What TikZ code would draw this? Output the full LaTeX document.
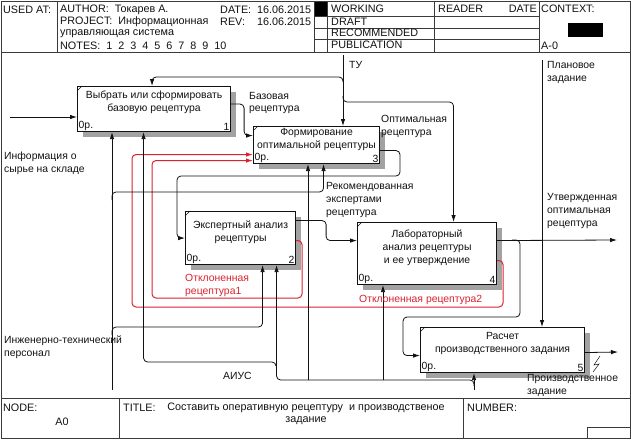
\documentclass[tikz,border=0pt]{standalone}
\usepackage{fontspec}
\setmainfont{Liberation Sans}
\usetikzlibrary{arrows.meta,calc,shadows}
\definecolor{ink}{HTML}{111111}
\definecolor{rejected}{HTML}{D9222E}
\definecolor{shadowgray}{HTML}{A2A2A2}
\definecolor{rulegray}{HTML}{3A3A3A}

\begin{document}
\begin{tikzpicture}[
  x=1pt, y=-1pt, font=\fontsize{10.4}{13}\selectfont,
  fn/.style={draw=ink, line width=1.1pt, fill=white, inner sep=0pt, anchor=north west,
    drop shadow={shadow xshift=5pt, shadow yshift=-5pt, fill=shadowgray, opacity=1}},
  fname/.style={align=center, text=ink, inner sep=0pt},
  corner/.style={inner sep=1.5pt, text=ink},
  flow/.style={draw=ink, line width=0.8pt, rounded corners=4pt, -{Latex[length=7pt,width=4.5pt]}},
  back/.style={flow, draw=rejected, line width=1pt},
  lbl/.style={anchor=west, align=left, text=ink, inner sep=0pt},
  rlbl/.style={lbl, text=rejected},
  cell/.style={anchor=west, inner sep=0pt, text=ink, font=\fontsize{10.8}{12.5}\selectfont},
  rule/.style={draw=rulegray, line width=0.8pt}
]
\useasboundingbox (0,0) rectangle (631,439);

\draw[rule] (1,1) rectangle (630,438);
\draw[rule] (1,52) -- (630,52);
\foreach \x in {57,314,327,434,539} {\draw[rule] (\x,1) -- (\x,52);}
\foreach \y in {16,28,39} {\draw[rule] (314,\y) -- (539,\y);}
\fill[black] (315,2) rectangle (327,16);
\fill[black] (568,23) rectangle (603,37);
\draw[rule] (1,398) -- (630,398);
\foreach \x in {119,463} {\draw[rule] (\x,398) -- (\x,438);}
\draw[rule] (587,427) rectangle (630,438);

\node[cell] (usedat) at (3,10) {USED AT:};
\node[cell] (author) at (60,10) {AUTHOR:\ \ Токарев А.};
\node[cell] (date) at (220,10) {DATE:\ \ 16.06.2015};
\node[cell] (project) at (60,22) {PROJECT:\ \ Информационная};
\node[cell] (rev) at (220,22) {REV:\ \ \ \ 16.06.2015};
\node[cell] (project2) at (60,34) {управляющая система};
\node[cell] (notes) at (60,46) {NOTES:\ \ 1\hspace{6pt}2\hspace{6pt}3\hspace{6pt}4\hspace{6pt}5\hspace{6pt}6\hspace{6pt}7\hspace{6pt}8\hspace{6pt}9\hspace{6pt}10};
\node[cell] (working) at (331,9) {WORKING};
\node[cell] (draft) at (331,22) {DRAFT};
\node[cell] (recom) at (331,33) {RECOMMENDED};
\node[cell] (publ) at (331,45) {PUBLICATION};
\node[cell] (reader) at (438,9) {READER};
\node[cell, anchor=east] (rdate) at (537,9) {DATE};
\node[cell] (context) at (541,9) {CONTEXT:};
\node[cell] (ctxnode) at (541,46) {A-0};
\node[cell] (nodelbl) at (3,408) {NODE:};
\node[cell, anchor=center] (nodeval) at (62,422) {A0};
\node[cell] (titlelbl) at (123,408) {TITLE:};
\node[cell, anchor=center, align=center] (title) at (306,414)
  {Составить оперативную рецептуру\ \ и производственое\\задание};
\node[cell] (number) at (467,408) {NUMBER:};

\node[fn, minimum width=153pt, minimum height=45pt] (b1) at (77,86) {};
\node[fn, minimum width=126pt, minimum height=37pt] (b3) at (253,126) {};
\node[fn, minimum width=110pt, minimum height=53pt] (b2) at (185,211) {};
\node[fn, minimum width=139pt, minimum height=62pt] (b4) at (357,222) {};
\node[fn, minimum width=164pt, minimum height=45pt] (b5) at (420,327) {};

\node[fname] (t1) at ([yshift=7pt]b1.center) {Выбрать или сформировать\\базовую рецептура};
\node[fname] (t3) at ([yshift=5.5pt]b3.center) {Формирование\\оптимальной рецептуры};
\node[fname] (t2) at ([yshift=5.5pt]b2.center) {Экспертный анализ\\рецептуры};
\node[fname] (t4) at ([yshift=5.5pt]b4.center) {Лабораторный\\анализ рецептуры\\и ее утверждение};
\node[fname] (t5) at ([yshift=7pt]b5.center) {Расчет\\производственного задания};

\foreach \b/\n in {b1/1, b2/2, b3/3, b4/4, b5/5} {
  \node[corner, anchor=south west] (\b cost) at (\b.south west) {0р.};
  \node[corner, anchor=south east] (\b num) at (\b.south east) {\n};
  \draw[ink, line width=0.6pt] ([yshift=-5pt]\b.north west) -- ([xshift=5pt]\b.north west);
}

\coordinate (infIn) at (10,117);
\coordinate (tuIn) at (343,55);
\coordinate (planIn) at (542,60);
\coordinate (persIn) at (112,390);
\coordinate (aiusIn) at (474,390);
\coordinate (approvedOut) at (617,240);
\coordinate (taskOut) at (618,352);

\draw[flow] (infIn) -- (infIn -| b1.west);
\draw[flow] (tuIn) -- (tuIn |- b3.north);
\coordinate (tuA) at (343,82);
\draw[flow] (tuA) |- (250,77) -| ([xshift=-2pt]b1.north);
\coordinate (tuB) at (343,96);
\draw[flow] (tuB) |- (400,102) -| ([xshift=26.5pt]b4.north);

\draw[flow] ([yshift=5pt]b1.east) -- ++(13,0) |- ([yshift=9.5pt]b3.west);
\draw[flow] ([yshift=-5.5pt]b3.east) -| (400,176) -| ([xshift=-8pt]b2.west) -- (b2.west);
\draw[flow] ([yshift=17.5pt]b2.east) -- ++(30,0) |- ([yshift=13pt]b4.west);
\draw[back] ([yshift=-2.5pt]b2.east) -| (302,298) -| (152,200) |- ([yshift=-15.5pt]b3.west);
\draw[back] ([yshift=-7pt]b4.east) -| (503,307) -| (132,200) |- ([yshift=-9.5pt]b3.west);

\draw[flow] ([yshift=13pt]b4.east) -- (approvedOut);
\coordinate (apJ) at (512,240);
\draw[flow] (apJ) -| (520,317) -| (403,340) |- ([yshift=-5.5pt]b5.west);
\draw[flow] (planIn) -- (planIn |- b5.north);
\draw[flow] ([yshift=-2.5pt]b5.east) -- (taskOut);
\draw[ink, line width=0.5pt] (600,356) -- (594,365) -- (599,364) -- (593,372);

\draw[flow] (persIn) -- (persIn |- b1.south);
\coordinate (persA) at (112,200);
\draw[flow] (persA) |- (250,192) -| ([xshift=7pt]b3.south);
\coordinate (persB) at (112,335);
\draw[flow] (persB) |- (200,327) -| ([xshift=22pt]b2.south);

\draw[flow] (aiusIn) -- (aiusIn |- b5.south);
\coordinate (aiusA) at (474,386);
\draw[flow] (aiusA) |- (350,380) -| ([xshift=36pt]b2.south);
\coordinate (aiusB) at (383,380);
\draw[flow] (aiusB) -- (aiusB |- b4.south);
\coordinate (aiusC) at (308,380);
\draw[flow] (aiusC) -- (aiusC |- b3.south);
\coordinate (aiusD) at (276,366);
\draw[flow] (aiusD) |- (200,362) -| ([xshift=-10.5pt]b1.south);

\node[lbl] (infLbl) at (4,163) {Информация о\\сырье на складе};
\node[lbl] (tuLbl) at (349,65) {ТУ};
\node[lbl] (baseLbl) at (249,103) {Базовая\\рецептура};
\node[lbl] (optLbl) at (381,126) {Оптимальная\\рецептура};
\node[lbl] (recLbl) at (326,200) {Рекомендованная\\экспертами\\рецептура};
\node[lbl] (appLbl) at (547,211) {Утвержденная\\оптимальная\\рецептура};
\node[lbl] (planLbl) at (547,72) {Плановое\\задание};
\node[rlbl] (rej1Lbl) at (185,285) {Отклоненная\\рецептура1};
\node[rlbl] (rej2Lbl) at (359,300) {Отклоненная рецептура2};
\node[lbl] (persLbl) at (4,347) {Инженерно-технический\\персонал};
\node[lbl] (aiusLbl) at (223,376) {АИУС};
\node[lbl] (taskLbl) at (527,385) {Производственное\\задание};
\end{tikzpicture}
\end{document}
